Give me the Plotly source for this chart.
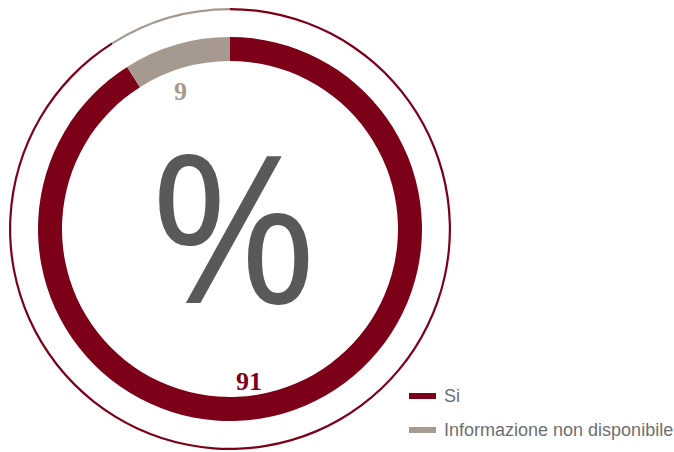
import plotly.graph_objects as go

# Share of responses
labels = ["Si", "Informazione non disponibile"]
values = [91, 9]
colors = ["#7d0019", "#a69a90"]

W, H = 674, 452
cx, cy = 230, 229  # ring centre in pixels (from top-left)


def px_x(x):
    return x / W


def px_y(y):
    return (H - y) / H


def domain(r):
    return dict(x=[px_x(cx - r), px_x(cx + r)], y=[px_y(cy + r), px_y(cy - r)])


fig = go.Figure()

# thin outer ring
fig.add_trace(go.Pie(
    labels=labels, values=values, sort=False, direction="clockwise", rotation=0,
    hole=0.99, domain=domain(221), marker=dict(colors=colors, line=dict(width=0)),
    textinfo="none", hoverinfo="skip", showlegend=False,
))

# thick inner ring
fig.add_trace(go.Pie(
    labels=labels, values=values, sort=False, direction="clockwise", rotation=0,
    hole=168 / 192, domain=domain(192), marker=dict(colors=colors, line=dict(width=0)),
    textinfo="none", hoverinfo="skip", showlegend=False,
))

annotations = [
    dict(x=px_x(233), y=px_y(223), text="%", showarrow=False,
         font=dict(family="Open Sans", size=205, color="#58595b"),
         height=190, valign="middle",
         xanchor="center", yanchor="middle"),
    dict(x=px_x(180), y=px_y(92), text="<b>%d</b>" % values[1], showarrow=False,
         font=dict(family="Liberation Serif", size=26, color=colors[1]),
         xanchor="center", yanchor="middle"),
    dict(x=px_x(249), y=px_y(381), text="<b>%d</b>" % values[0], showarrow=False,
         font=dict(family="Liberation Serif", size=26, color=colors[0]),
         xanchor="center", yanchor="middle"),
]

# legend
shapes = []
legend_rows = [396, 430]
for lab, col, y in zip(labels, colors, legend_rows):
    shapes.append(dict(type="rect", xref="paper", yref="paper",
                       x0=px_x(409), x1=px_x(436), y0=px_y(y + 3), y1=px_y(y - 3),
                       fillcolor=col, line=dict(width=0)))
    annotations.append(dict(x=px_x(442), y=px_y(y), text=lab, showarrow=False,
                            xanchor="left", yanchor="middle",
                            font=dict(family="Liberation Sans", size=18, color="#6d6e71")))

fig.update_layout(
    width=W, height=H, margin=dict(l=0, r=0, t=0, b=0),
    paper_bgcolor="white", plot_bgcolor="white",
    annotations=annotations, shapes=shapes,
)

fig.write_html("out.html")
